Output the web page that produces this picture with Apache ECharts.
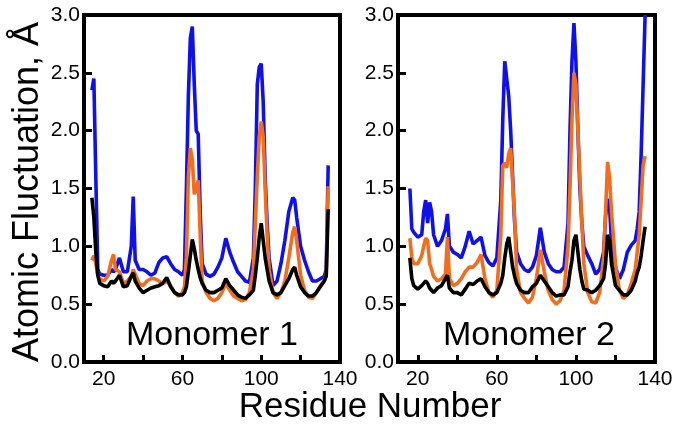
<!DOCTYPE html>
<html>
<head>
<meta charset="utf-8">
<script src="https://cdn.jsdelivr.net/npm/echarts@6/dist/echarts.min.js"></script>
<style>html,body{margin:0;padding:0;background:#fff}#c{width:679px;height:429px}</style>
</head>
<body>
<div id="c"></div>
<script>
// Residue numbers (x) for each panel
const residues1 = [14,15,16,17,18,20,22,24,25,26,28,30,32,34,35,36,38,40,42,44,46,48,50,52,54,56,58,60,61,62,63,64,65,66,67,68,69,70,72,74,76,78,80,82,84,86,88,90,92,94,96,97,98,99,100,101,102,103,104,106,108,110,112,114,116,117,118,120,122,124,126,128,130,132,133,134];
const blue1 = [2.35,2.45,1.6,0.8,0.76, 0.75,0.75,0.8,0.78,0.8, 0.9,0.78,0.78,1.0,1.43, 0.88,0.8,0.8,0.78,0.75, 0.77,0.86,0.9,0.91,0.85, 0.8,0.78,0.75,0.8,1.5, 2.3,2.8,2.9,2.4,2.0, 1.97,1.3,0.85,0.76,0.74, 0.76,0.82,0.9,1.07,0.95, 0.86,0.78,0.74,0.7,0.69, 0.9,1.5,2.4,2.55,2.58, 2.25,1.6,1.2,0.9,0.66, 0.7,0.85,1.05,1.3,1.42, 1.4,1.25,1.0,0.88,0.78, 0.7,0.7,0.72,0.74,0.8, 1.7];
const orange1 = [0.88,0.92,0.85,0.75,0.72, 0.7,0.74,0.88,0.93,0.8, 0.78,0.68,0.7,0.74,0.8, 0.76,0.68,0.66,0.7,0.72, 0.72,0.7,0.68,0.7,0.66, 0.6,0.57,0.6,0.65,0.9, 1.6,1.85,1.75,1.45,1.5, 1.57,1.1,0.7,0.6,0.55, 0.53,0.55,0.6,0.68,0.62, 0.57,0.55,0.53,0.54,0.6, 0.8,1.2,1.6,1.95,2.08, 1.95,1.5,1.1,0.8,0.6, 0.55,0.6,0.7,0.9,1.12, 1.17,1.05,0.75,0.62,0.56, 0.55,0.6,0.66,0.7,0.75, 1.52];
const black1 = [1.42,1.25,0.95,0.75,0.68, 0.66,0.65,0.7,0.68,0.7, 0.75,0.65,0.66,0.74,0.77, 0.7,0.64,0.6,0.62,0.64, 0.65,0.66,0.68,0.73,0.65, 0.6,0.58,0.58,0.6,0.65, 0.78,0.92,1.06,0.98,0.88, 0.8,0.73,0.68,0.62,0.6, 0.6,0.62,0.64,0.72,0.66, 0.62,0.58,0.56,0.55,0.58, 0.62,0.75,0.9,1.08,1.2, 1.05,0.9,0.8,0.7,0.6, 0.58,0.6,0.66,0.72,0.8, 0.82,0.75,0.65,0.6,0.57, 0.57,0.6,0.65,0.7,0.74, 1.32];

const residues2 = [16,17,18,20,22,23,24,25,26,27,28,30,32,34,35,36,38,40,42,44,46,48,50,52,54,56,58,60,62,63,64,65,66,67,68,69,70,72,74,76,78,80,82,84,86,88,90,92,94,96,97,98,99,100,101,102,103,104,106,108,110,112,114,115,116,117,118,120,122,124,126,128,130,131,132,133,134,135];
const blue2 = [1.5,1.15,1.12,1.08,1.1, 1.3,1.4,1.2,1.38,1.3, 1.1,1.0,1.05,1.15,1.28, 1.0,0.95,0.93,0.9,1.0, 1.13,1.02,1.05,1.08,0.92, 0.86,0.83,0.9,1.4,2.1, 2.6,2.6,2.3,2.0,1.6, 1.2,0.95,0.85,0.8,0.78, 0.82,0.92,1.16,0.95,0.85, 0.8,0.78,0.78,0.82,1.2, 2.0,2.6,2.93,2.6,2.0, 1.5,1.2,1.0,0.92,0.85, 0.76,0.8,0.95,1.26,1.41, 1.35,1.03,0.82,0.72,0.8, 0.95,1.01,1.05,1.15,1.3, 1.8,2.4,3.0];
const orange2 = [1.07,0.9,0.85,0.85,0.92, 1.0,1.07,1.05,0.85,0.8, 0.74,0.7,0.72,0.76,1.08, 0.72,0.66,0.68,0.72,0.78, 0.82,0.82,0.86,0.93,0.72, 0.6,0.56,0.62,1.1,1.7, 1.72,1.68,1.8,1.85,1.55, 1.25,0.8,0.6,0.55,0.51, 0.56,0.72,0.97,0.78,0.62, 0.54,0.5,0.53,0.62,1.0, 1.5,2.1,2.5,2.4,2.0, 1.6,1.2,0.85,0.6,0.52, 0.51,0.6,0.9,1.3,1.73, 1.6,1.3,0.85,0.62,0.55, 0.58,0.68,0.8,0.95,1.1, 1.4,1.7,1.78];
const black2 = [0.9,0.72,0.66,0.63,0.66, 0.68,0.7,0.68,0.64,0.62, 0.6,0.64,0.66,0.72,0.75, 0.64,0.6,0.6,0.58,0.63, 0.68,0.67,0.7,0.72,0.65, 0.6,0.58,0.6,0.68,0.75, 0.9,1.02,1.08,0.95,0.82, 0.74,0.68,0.62,0.6,0.6, 0.65,0.68,0.75,0.7,0.65, 0.6,0.57,0.58,0.58,0.65, 0.78,0.88,1.05,1.1,0.95, 0.8,0.7,0.63,0.62,0.6, 0.62,0.66,0.72,0.85,1.1, 1.05,0.85,0.66,0.62,0.58, 0.58,0.62,0.7,0.77,0.82, 0.92,1.05,1.17];

const xTicks = [20,40,60,80,100,120];
const xLabels = [20,60,100,140];
const panelTitles = ['Monomer 1','Monomer 2'];
const yTitle = 'Atomic Fluctuation, Å';
const xTitle = 'Residue Number';

const FONT = "'Liberation Sans', Arial, sans-serif";
const BLUE = '#1010e8', ORANGE = '#f26e1e', BLACK = '#000000';

function pairs(xs, ys){ return xs.map((x,i)=>[x, ys[i]]); }

function xAx(g){
  return {
    type:'value', gridIndex:g, min:10, max:140,
    axisLine:{show:false},
    splitLine:{show:false},
    axisTick:{show:true, inside:true, length:7, customValues:xTicks, lineStyle:{color:'#000', width:3}},
    axisLabel:{customValues:xLabels, fontSize:21, color:'#000', margin:7, fontFamily:FONT}
  };
}
function yAx(g){
  return {
    type:'value', gridIndex:g, min:0, max:3, interval:0.5,
    axisLine:{show:false},
    splitLine:{show:false},
    axisTick:{show:true, inside:true, length:8, lineStyle:{color:'#000', width:3}},
    axisLabel:{fontSize:21, color:'#000', margin:4, fontFamily:FONT, formatter:v=>v.toFixed(1)}
  };
}
function line(g, xs, ys, color){
  return {type:'line', xAxisIndex:g, yAxisIndex:g, data:pairs(xs,ys), showSymbol:false, symbol:'none',
    lineStyle:{color:color, width:3.6}, itemStyle:{color:color}, animation:false, silent:true};
}

const chart = echarts.init(document.getElementById('c'), null, {renderer:'canvas'});
chart.setOption({
  animation:false,
  backgroundColor:'#fff',
  grid:[
    {left:84, top:15, width:256, height:347, show:true, borderColor:'#000', borderWidth:4, containLabel:false},
    {left:398, top:15, width:257, height:347, show:true, borderColor:'#000', borderWidth:4, containLabel:false}
  ],
  xAxis:[xAx(0), xAx(1)],
  yAxis:[yAx(0), yAx(1)],
  series:[
    line(0, residues1, blue1, BLUE), line(0, residues1, orange1, ORANGE), line(0, residues1, black1, BLACK),
    line(1, residues2, blue2, BLUE), line(1, residues2, orange2, ORANGE), line(1, residues2, black2, BLACK)
  ],
  graphic:[
    {type:'text', x:28, y:192, rotation:Math.PI/2, z:100, style:{text:yTitle, font:"36px "+FONT, fill:'#000', textAlign:'center', textVerticalAlign:'middle'}},
    {type:'text', x:370, y:407, z:100, style:{text:xTitle, font:"35px "+FONT, fill:'#000', textAlign:'center', textVerticalAlign:'middle'}},
    {type:'text', x:212, y:336, z:100, style:{text:panelTitles[0], font:"34px "+FONT, fill:'#000', textAlign:'center', textVerticalAlign:'middle'}},
    {type:'text', x:529, y:336, z:100, style:{text:panelTitles[1], font:"34px "+FONT, fill:'#000', textAlign:'center', textVerticalAlign:'middle'}}
  ]
});
</script>
</body>
</html>
